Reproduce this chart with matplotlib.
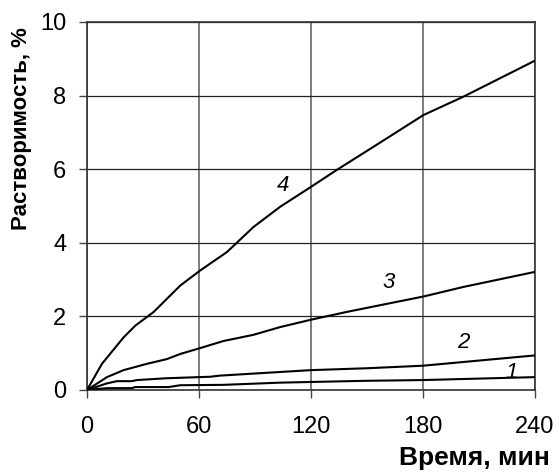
import matplotlib
matplotlib.use("Agg")
import matplotlib.pyplot as plt

plt.rcParams['font.family'] = ['Liberation Sans', 'DejaVu Sans']

t4 = [0, 8, 19.6, 25.9, 35.7, 50, 60.7, 75, 89.2, 103.5, 120, 133.8, 153.5, 180.2, 201.6, 240]
v4 = [0, 0.71, 1.43, 1.75, 2.12, 2.84, 3.25, 3.75, 4.43, 4.98, 5.52, 5.98, 6.61, 7.47, 7.97, 8.95]

t3 = [0, 10.7, 19.6, 32, 42.8, 50, 60.7, 73, 89.2, 103.5, 120, 139, 160.5, 180.2, 201.6, 240]
v3 = [0, 0.35, 0.54, 0.71, 0.84, 0.98, 1.14, 1.33, 1.50, 1.71, 1.91, 2.12, 2.34, 2.54, 2.80, 3.21]

t2 = [0, 10.7, 16, 24, 26.8, 42.8, 66, 71, 120, 149.5, 180, 240]
v2 = [0, 0.18, 0.24, 0.24, 0.27, 0.32, 0.36, 0.39, 0.54, 0.59, 0.66, 0.94]

t1 = [0, 10.7, 24, 25.9, 43.7, 50, 73, 103.5, 149.5, 180, 240]
v1 = [0, 0.05, 0.05, 0.08, 0.08, 0.13, 0.14, 0.20, 0.25, 0.27, 0.35]

curve_labels = ['1', '2', '3', '4']
label_t = [227.5, 201.6, 161.5, 105]
label_v = [0.48, 1.30, 2.93, 5.57]

x_ticks = [0, 60, 120, 180, 240]
y_ticks = [0, 2, 4, 6, 8, 10]

W, H = 559, 472
fig = plt.figure(figsize=(W / 100, H / 100), dpi=100)
ax = fig.add_axes([87 / W, (H - 390) / H, 448 / W, 368 / H])

for t, v in [(t1, v1), (t2, v2), (t3, v3), (t4, v4)]:
    ax.plot(t, v, color='black', lw=1.5, zorder=3)

for lab, lt, lv in zip(curve_labels, label_t, label_v):
    ax.text(lt, lv, lab, fontsize=16, style='italic', ha='center', va='center', zorder=4)

ax.set_xlim(0, 240)
ax.set_ylim(0, 10)
ax.set_xticks(x_ticks)
ax.set_yticks(y_ticks)
ax.tick_params(axis='both', labelsize=17, direction='out', length=6, width=1, color='#444444')
ax.tick_params(axis='x', pad=13)
ax.tick_params(axis='y', pad=9)

for xv in x_ticks:
    ax.axvline(xv, color='#666666', lw=1.2, zorder=1)
for yv in y_ticks:
    ax.axhline(yv, color='#222222', lw=0.9, zorder=1)

for s in ax.spines.values():
    s.set_color('#333333')
    s.set_linewidth(1.2)

fig.text(22 / W, 1 - 129 / H, 'Растворимость, %', rotation=90, ha='center', va='center',
         fontsize=16, fontweight='bold')
fig.text(550 / W, 1 - 458 / H, 'Время, мин', ha='right', va='center',
         fontsize=19, fontweight='bold')

fig.savefig('out.png', dpi=100)
